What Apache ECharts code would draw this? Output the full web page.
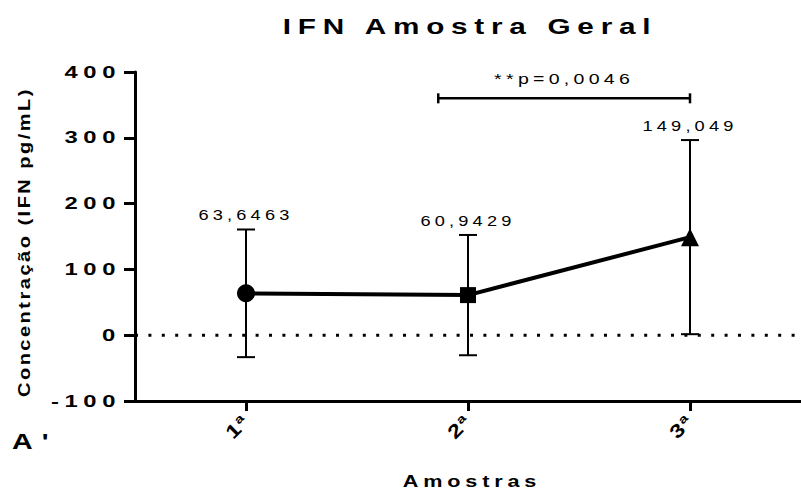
<!DOCTYPE html>
<html>
<head>
<meta charset="utf-8">
<script src="https://cdn.jsdelivr.net/npm/echarts@6/dist/echarts.min.js"></script>
<style>
  html, body { margin: 0; padding: 0; background: #fff; }
  #chart { width: 801px; height: 490px; }
</style>
</head>
<body>
<div id="chart"></div>
<script>
// Sample collections and mean IFN concentration with SD
const categories = ['1ª', '2ª', '3ª'];
const means = [63.6463, 60.9429, 149.049];
const sds = [97, 91.4, 147.5];
const markers = ['circle', 'rect', 'triangle'];
const markerSizes = [18, 16, 18];
const yTicks = [-100, 0, 100, 200, 300, 400];
const baseline = 0;

// Significance bracket between 2ª and 3ª (category index units)
const bracketSpan = [0.866, 2];
const bracketLevel = 360;
const pValueText = '**p=0,0046';

const titleText = 'IFN Amostra Geral';
const yName = 'Concentração (IFN pg/mL)';
const xName = 'Amostras';
const panelTag = "A'";

const FONT = '"Liberation Sans", Arial, sans-serif';
const fmt = v => String(v).replace('.', ',');

// wide-set lettering: [letter spacing px, horizontal glyph stretch]
const tracking = new Map();
tracking.set(titleText, [5, 1.35]);
tracking.set(yName, [2, 1.25]);
tracking.set(xName, [3.6, 1.35]);
tracking.set(panelTag, [7, 1.3]);
tracking.set(pValueText, [3.3, 1.3]);
yTicks.forEach(t => tracking.set(String(t), [4, 1.4]));
categories.forEach(c => tracking.set(c, [1, 1.25]));
means.forEach(m => tracking.set(fmt(m), [3.2, 1.3]));

const chart = echarts.init(document.getElementById('chart'), null, { renderer: 'svg' });

const errorData = categories.map((c, i) => [i, means[i] - sds[i], means[i] + sds[i]]);

chart.setOption({
  animation: false,
  grid: { left: 135, top: 72, width: 672, height: 329 },
  xAxis: {
    type: 'category',
    data: categories,
    boundaryGap: true,
    axisLine: { onZero: false, lineStyle: { color: '#000', width: 3 } },
    axisTick: { show: true, interval: 0, alignWithLabel: true, length: 10, lineStyle: { color: '#000', width: 3 } },
    axisLabel: { interval: 0, rotate: 45, margin: 17, color: '#000', fontWeight: 'bold', fontSize: 19, fontFamily: FONT },
    splitLine: { show: false }
  },
  yAxis: {
    type: 'value',
    min: yTicks[0],
    max: yTicks[yTicks.length - 1],
    interval: 100,
    axisLine: { show: true, lineStyle: { color: '#000', width: 3 } },
    axisTick: { show: true, length: 11, lineStyle: { color: '#000', width: 3 } },
    axisLabel: { margin: 14, color: '#000', fontWeight: 'bold', fontSize: 17, fontFamily: FONT },
    splitLine: { show: false }
  },
  graphic: [
    { type: 'text', x: 470, y: 26, style: { text: titleText, align: 'center', verticalAlign: 'middle', font: 'bold 22px ' + FONT, fill: '#000' } },
    { type: 'text', x: 24, y: 242, rotation: Math.PI / 2, style: { text: yName, align: 'center', verticalAlign: 'middle', font: 'bold 16px ' + FONT, fill: '#000' } },
    { type: 'text', x: 472, y: 481, style: { text: xName, align: 'center', verticalAlign: 'middle', font: 'bold 16px ' + FONT, fill: '#000' } },
    { type: 'text', x: 12, y: 441, style: { text: panelTag, align: 'left', verticalAlign: 'middle', font: 'bold 22px ' + FONT, fill: '#000' } }
  ],
  series: [
    {
      // dotted reference line at zero
      type: 'custom',
      name: 'zero',
      z: 1,
      silent: true,
      data: [[0, baseline]],
      renderItem(params, api) {
        const y = api.coord([0, api.value(1)])[1];
        const cs = params.coordSys;
        return {
          type: 'line',
          shape: { x1: cs.x, y1: y, x2: cs.x + cs.width, y2: y },
          style: { stroke: '#000', lineWidth: 3, lineDash: [3, 10.4] }
        };
      }
    },
    {
      type: 'custom',
      name: 'sd',
      z: 2,
      data: errorData,
      renderItem(params, api) {
        const i = api.value(0);
        const top = api.coord([i, api.value(2)]);
        const bot = api.coord([i, api.value(1)]);
        const cap = 9;
        const ls = { stroke: '#000', lineWidth: 2 };
        return {
          type: 'group',
          children: [
            { type: 'line', shape: { x1: top[0], y1: top[1], x2: bot[0], y2: bot[1] }, style: ls },
            { type: 'line', shape: { x1: top[0] - cap, y1: top[1], x2: top[0] + cap, y2: top[1] }, style: ls },
            { type: 'line', shape: { x1: bot[0] - cap, y1: bot[1], x2: bot[0] + cap, y2: bot[1] }, style: ls },
            { type: 'text', style: { text: fmt(means[i]), x: top[0], y: top[1] - 14, align: 'center', verticalAlign: 'middle', font: '14px ' + FONT, fill: '#000' } }
          ]
        };
      }
    },
    {
      type: 'line',
      name: 'IFN',
      z: 3,
      data: means.map((v, i) => ({ value: v, symbol: markers[i], symbolSize: markerSizes[i] })),
      itemStyle: { color: '#000' },
      lineStyle: { color: '#000', width: 4 }
    },
    {
      type: 'custom',
      name: 'bracket',
      z: 2,
      data: [[0, bracketLevel]],
      renderItem(params, api) {
        const base = api.coord([0, api.value(1)]);
        const band = api.size([1, 0])[0];
        const x1 = base[0] + bracketSpan[0] * band;
        const x2 = base[0] + bracketSpan[1] * band;
        const y = base[1];
        const ls = { stroke: '#000', lineWidth: 2.5 };
        return {
          type: 'group',
          children: [
            { type: 'line', shape: { x1: x1, y1: y, x2: x2, y2: y }, style: ls },
            { type: 'line', shape: { x1: x1, y1: y - 5, x2: x1, y2: y + 5 }, style: ls },
            { type: 'line', shape: { x1: x2, y1: y - 5, x2: x2, y2: y + 5 }, style: ls },
            { type: 'text', style: { text: pValueText, x: (x1 + x2) / 2, y: y - 20, align: 'center', verticalAlign: 'middle', font: '15px ' + FONT, fill: '#000' } }
          ]
        };
      }
    }
  ]
});

function applyTracking() {
  document.querySelectorAll('#chart text').forEach(t => {
    if (t.dataset.tracked) return;
    const cfg = tracking.get(t.textContent);
    if (!cfg) return;
    t.style.letterSpacing = cfg[0] + 'px';
    const len = t.getComputedTextLength();
    t.setAttribute('textLength', (len * cfg[1]).toFixed(1));
    t.setAttribute('lengthAdjust', 'spacingAndGlyphs');
    t.dataset.tracked = '1';
  });
}
chart.on('finished', applyTracking);
applyTracking();
</script>
</body>
</html>
